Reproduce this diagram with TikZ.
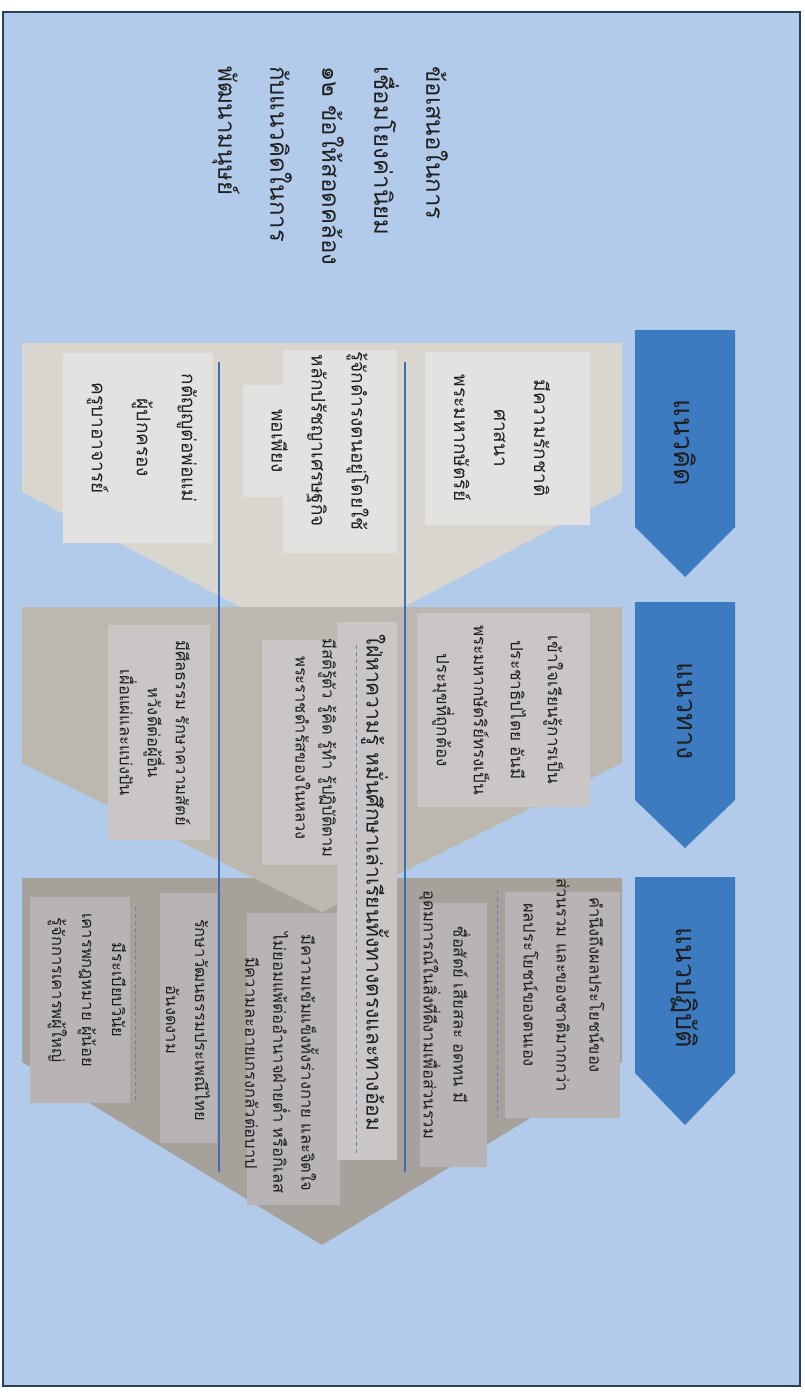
\documentclass[tikz,border=0pt]{standalone}
\usepackage{fontspec}
\newfontfamily\thai[Script=Thai]{Loma}
\definecolor{bg}{HTML}{B3CBEA}
\definecolor{framec}{HTML}{27415F}
\definecolor{arrowblue}{HTML}{3C7BC0}
\definecolor{chA}{HTML}{D9D6CF}
\definecolor{boxA}{HTML}{E4E2E0}
\definecolor{chB}{HTML}{BCB8B0}
\definecolor{boxB}{HTML}{C9C6C5}
\definecolor{chC}{HTML}{A6A29B}
\definecolor{boxC}{HTML}{B8B4B5}
\definecolor{linkblue}{HTML}{3F6FB5}
\definecolor{dashblue}{HTML}{5A86C0}
\definecolor{ink}{HTML}{1E1E1E}
\tikzset{
  rtxt/.style={rotate=-90, text=ink, align=center, inner sep=0pt},
  bigtxt/.style={rtxt, font=\thai\fontsize{24}{52}\selectfont},
  lbltxt/.style={rtxt, font=\thai\fontsize{27}{30}\selectfont},
  itxtA/.style={rtxt, font=\thai\fontsize{19}{40}\selectfont},
  itxtB/.style={rtxt, font=\thai\fontsize{16.5}{30}\selectfont},
  solidlink/.style={draw=linkblue, line width=1.3pt},
  dashlink/.style={draw=dashblue, line width=0.9pt, dash pattern=on 4pt off 3pt},
}
\begin{document}
\begin{tikzpicture}[x=1pt,y=-1pt]
\useasboundingbox (0,0) rectangle (804,1392);
\fill[white] (0,0) rectangle (804,1392);
% frame
\draw[draw=framec, line width=1.8pt, fill=bg] (3,12) rectangle (800,1386);

% title
\node[bigtxt, align=left, anchor=north west] (title) at (448,66)
  {ข้อเสนอในการ\\เชื่อมโยงค่านิยม\\๑๒ ข้อให้สอดคล้อง\\กับแนวคิดในการ\\พัฒนามนุษย์};

% grey chevrons
\fill[chA] (22,343) -- (622,343) -- (622,492) -- (322,650) -- (22,492) -- cycle;
\fill[chC] (22,878) -- (622,878) -- (622,1062) -- (322,1245) -- (22,1062) -- cycle;
% chevron 1 boxes
\fill[boxA] (425,352) rectangle (590,525);
\fill[boxA] (283,350) rectangle (397,553);
\fill[boxA] (243,385) rectangle (283,497);
\fill[boxA] (63,353) rectangle (213,543);
% chevron 3 boxes
\fill[boxC] (505,892) rectangle (620,1118);
\fill[boxC] (420,903) rectangle (487,1167);
\fill[boxC] (247,913) rectangle (340,1205);
\fill[boxC] (160,893) rectangle (217,1143);
\fill[boxC] (30,897) rectangle (130,1103);
% chevron 2 (on top of the others)
\fill[chB] (22,607) -- (622,607) -- (622,763) -- (322,912) -- (22,763) -- cycle;
\fill[boxB] (417,613) rectangle (590,807);
\fill[boxB] (262,640) rectangle (350,865);
\fill[boxB] (108,625) rectangle (210,840);
\fill[boxB] (337,622) rectangle (397,1160);

% blue chevrons
\fill[arrowblue] (635,330) -- (735,330) -- (735,527) -- (685,577) -- (635,527) -- cycle;
\fill[arrowblue] (635,602) -- (735,602) -- (735,800) -- (685,848) -- (635,800) -- cycle;
\fill[arrowblue] (635,877) -- (735,877) -- (735,1073) -- (685,1125) -- (635,1073) -- cycle;
\node[lbltxt] (lab1) at (685,443) {แนวคิด};
\node[lbltxt] (lab2) at (685,711) {แนวทาง};
\node[lbltxt] (lab3) at (685,988) {แนวปฏิบัติ};

% link lines
\coordinate (la1) at (405,362); \coordinate (la2) at (405,1172);
\coordinate (lb1) at (219,362); \coordinate (lb2) at (219,1172);
\coordinate (da1) at (356,645); \coordinate (da2) at (356,1155);
\coordinate (db1) at (497,890); \coordinate (db2) at (497,1120);
\coordinate (dc1) at (135,907); \coordinate (dc2) at (135,1103);
\draw[solidlink] (la1) -- (la2);
\draw[solidlink] (lb1) -- (lb2);
\draw[dashlink] (da1) -- (da2);
\draw[dashlink] (db1) -- (db2);
\draw[dashlink] (dc1) -- (dc2);

% chevron 1 texts
\node[itxtA] (tA) at (502,438) {มีความรักชาติ\\ศาสนา\\พระมหากษัตริย์};
\node[itxtA] (tB) at (320,441) {รู้จักดำรงตนอยู่โดยใช้\\หลักปรัชญาเศรษฐกิจ\\พอเพียง};
\node[itxtA, font=\thai\fontsize{19}{45}\selectfont] (tC) at (142,438) {กตัญญูต่อพ่อแม่\\ผู้ปกครอง\\ครูบาอาจารย์};

% chevron 2 texts
\node[itxtB, font=\thai\fontsize{17}{37}\selectfont] (tD) at (498,710) {เข้าใจเรียนรู้การเป็น\\ประชาธิปไตย อันมี\\พระมหากษัตริย์ทรงเป็น\\ประมุขที่ถูกต้อง};
\node[itxtB, font=\thai\fontsize{21}{30}\selectfont] (tE) at (375,883) {ใฝ่หาความรู้ หมั่นศึกษาเล่าเรียนทั้งทางตรงและทางอ้อม};
\node[itxtB, font=\thai\fontsize{16.5}{27}\selectfont] (tF) at (316,748) {มีสติรู้ตัว รู้คิด รู้ทำ รู้ปฏิบัติตาม\\พระราชดำรัสของในหลวง};
\node[itxtB, font=\thai\fontsize{16.5}{28}\selectfont] (tG) at (155,733) {มีศีลธรรม รักษาความสัตย์\\หวังดีต่อผู้อื่น\\เผื่อแผ่และแบ่งปัน};

% chevron 3 texts
\node[itxtB, font=\thai\fontsize{16.5}{33}\selectfont] (tH) at (564,985) {คำนึงถึงผลประโยชน์ของ\\ส่วนรวม และของชาติมากกว่า\\ผลประโยชน์ของตนเอง};
\node[itxtB] (tI) at (445,1015) {ซื่อสัตย์ เสียสละ อดทน มี\\อุดมการณ์ในสิ่งที่ดีงามเพื่อส่วนรวม};
\node[itxtB, font=\thai\fontsize{16.5}{28}\selectfont] (tJ) at (282,1063) {มีความเข้มแข็งทั้งร่างกาย และจิตใจ\\ไม่ยอมแพ้ต่ออำนาจฝ่ายต่ำ หรือกิเลส\\มีความละอายเกรงกลัวต่อบาป};
\node[itxtB, font=\thai\fontsize{16.5}{29}\selectfont] (tK) at (188,1020) {รักษาวัฒนธรรมประเพณีไทย\\อันงดงาม};
\node[itxtB] (tL) at (87,990) {มีระเบียบวินัย\\เคารพกฎหมาย ผู้น้อย\\รู้จักการเคารพผู้ใหญ่};
\end{tikzpicture}
\end{document}
